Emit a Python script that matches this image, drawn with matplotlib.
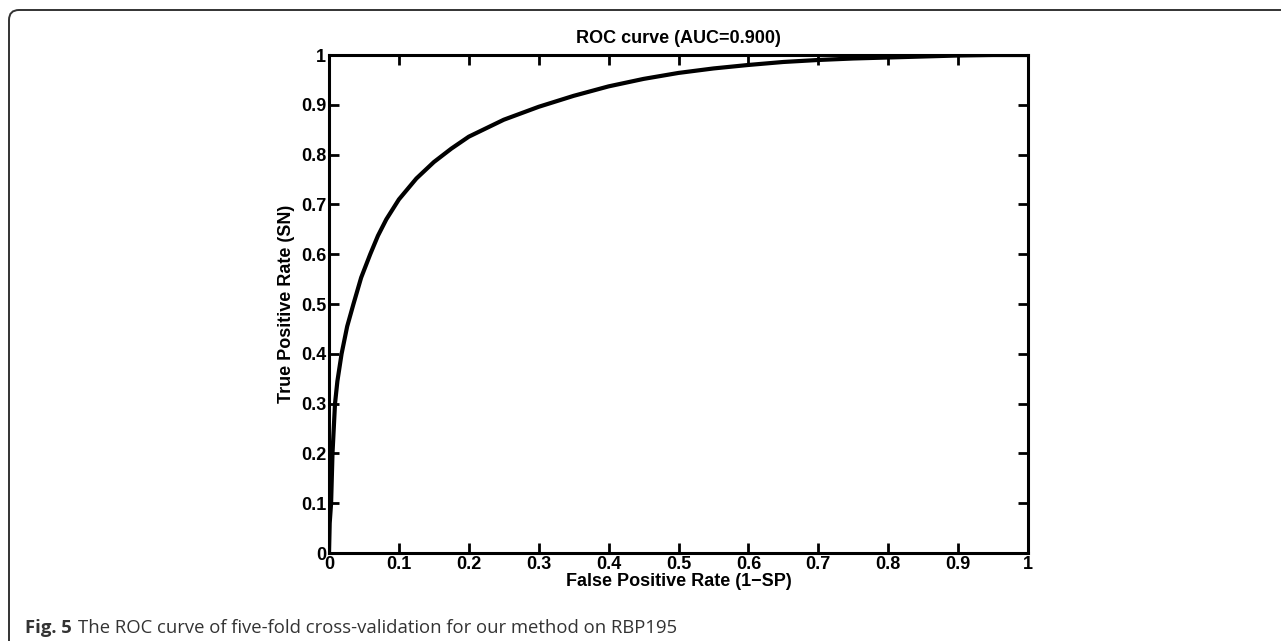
import numpy as np
import matplotlib
matplotlib.use("Agg")
import matplotlib.pyplot as plt
from matplotlib.patches import FancyBboxPatch

# ROC points
fpr = [0, 0.001, 0.003, 0.005, 0.0086, 0.012, 0.018, 0.026, 0.035, 0.046,
       0.059, 0.07, 0.082, 0.1, 0.125, 0.15, 0.175, 0.2, 0.25, 0.3,
       0.35, 0.4, 0.45, 0.5, 0.55, 0.6, 0.65, 0.7, 0.75, 0.8,
       0.85, 0.9, 0.95, 1.0]
tpr = [0, 0.06, 0.1, 0.2, 0.3, 0.345, 0.4, 0.455, 0.5, 0.553,
       0.6, 0.637, 0.67, 0.71, 0.752, 0.785, 0.812, 0.836, 0.87, 0.896,
       0.918, 0.937, 0.952, 0.964, 0.973, 0.98, 0.986, 0.99, 0.993, 0.995,
       0.997, 0.999, 1.0, 1.0]

ticks = [0, 0.1, 0.2, 0.3, 0.4, 0.5, 0.6, 0.7, 0.8, 0.9, 1]
tick_labels = ['0', '0.1', '0.2', '0.3', '0.4', '0.5', '0.6', '0.7', '0.8', '0.9', '1']

plt.rcParams['font.family'] = ['Liberation Sans', 'DejaVu Sans']

fig = plt.figure(figsize=(12.81, 6.41), dpi=100)
ax = fig.add_axes([329/1281, 1 - 553/641, 699/1281, 498/641])

ax.plot(fpr, tpr, '-', color='black', lw=3, solid_joinstyle='round')

ax.set_xlim(0, 1)
ax.set_ylim(0, 1)
ax.set_xticks(ticks)
ax.set_yticks(ticks)
ax.set_xticklabels(tick_labels, fontsize=13, fontweight='bold')
ax.set_yticklabels(tick_labels, fontsize=13, fontweight='bold')
ax.tick_params(direction='in', length=7, width=2, top=True, right=True, pad=2)
for s in ax.spines.values():
    s.set_linewidth(2.2)

ax.set_title('ROC curve (AUC=0.900)', fontsize=13, fontweight='bold', pad=9)
ax.set_xlabel('False Positive Rate (1\u2212SP)', fontsize=13, fontweight='bold', labelpad=0)
ax.set_ylabel('True Positive Rate (SN)', fontsize=13, fontweight='bold', labelpad=4)

# frame around the figure (top and left, rounded corner)
frame = FancyBboxPatch((0.09, -1), 20, 6.31 + 1, boxstyle='round,pad=0,rounding_size=0.1',
                       transform=fig.dpi_scale_trans, fill=False, ec='#333333', lw=1.4)
fig.add_artist(frame)

# caption: bold "Fig. 5" then the rest
cap_y = 1 - 628/641
t1 = fig.text(25/1281, cap_y, 'Fig. 5', fontsize=13.3, fontweight='bold', color='#333333',
              family=['Open Sans', 'DejaVu Sans'], va='center')
r = fig.canvas.get_renderer()
bb = t1.get_window_extent(renderer=r)
fig.text((bb.x1 + 6)/1281, cap_y,
         'The ROC curve of five-fold cross-validation for our method on RBP195',
         fontsize=13.3, color='#333333', family=['Open Sans', 'DejaVu Sans'], va='center')

fig.savefig('out.png', dpi=100)
